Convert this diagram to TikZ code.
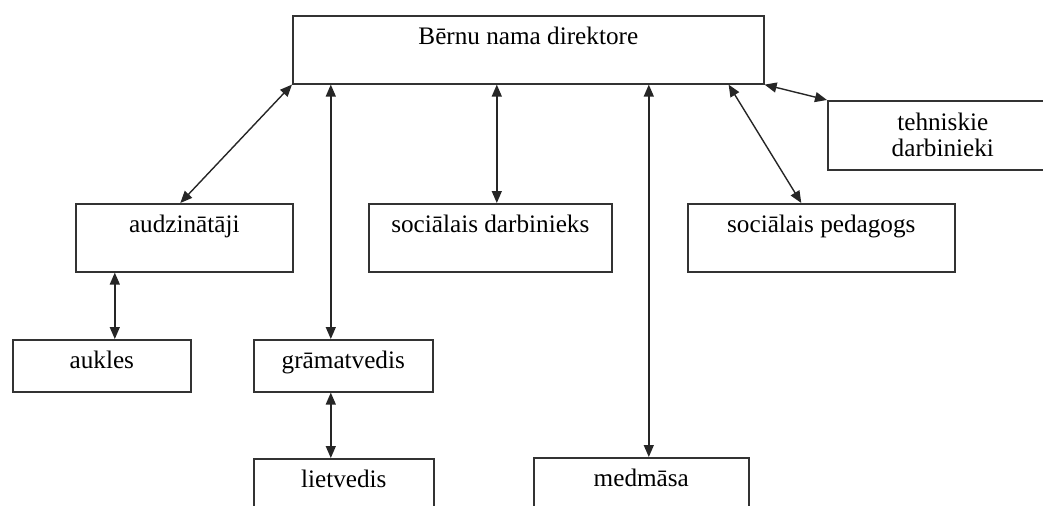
\documentclass[tikz,border=0pt]{standalone}
\usepackage{fontspec}
\setmainfont{Liberation Serif}
\usetikzlibrary{arrows.meta}

\begin{document}
\begin{tikzpicture}[
		x=0.5pt, y=-0.5pt,
		font=\fontsize{12.6}{13}\selectfont,
		% Boxes with the text near the upper edge
		tallbox/.style={draw=black!80, line width=0.8pt, anchor=north west, inner xsep=2pt, inner ysep=0pt, text height=14.5pt, text depth=19.5pt},
		shortbox/.style={tallbox, text depth=11.5pt},
		twolinebox/.style={draw=black!80, line width=0.8pt, anchor=north west, align=center, minimum height=34.5pt},
		% Two-headed connectors
		link/.style={{Triangle[length=6pt,width=5pt]}-{Triangle[length=6pt,width=5pt]}, line width=0.7pt, black!85}
		]
		
		\useasboundingbox (0,0) rectangle (1043,505);
		\clip (0,0) rectangle (1043,505);
		
		% =========================================================================
		% BOXES
		% =========================================================================
		\node[tallbox, minimum width=235.5pt] (dir) at (292,15) {Bērnu nama direktore};
		\node[twolinebox, minimum width=115pt] (tech) at (827,100) {tehniskie\\darbinieki};
		
		\node[tallbox, minimum width=108.5pt] (audz) at (75,203) {audzinātāji};
		\node[tallbox, minimum width=121.5pt] (socd) at (368,203) {sociālais darbinieks};
		\node[tallbox, minimum width=133.5pt] (socp) at (687,203) {sociālais pedagogs};
		
		\node[shortbox, minimum width=89pt] (aukl) at (12,339) {aukles};
		\node[shortbox, minimum width=89.5pt] (gram) at (253,339) {grāmatvedis};
		
		\node[tallbox, minimum width=90pt] (liet) at (253,458) {lietvedis};
		\node[tallbox, minimum width=107.5pt] (medm) at (533,457) {medmāsa};
		
		% =========================================================================
		% CONNECTORS
		% =========================================================================
		\coordinate (gx) at ([xshift=-6.25pt]gram.north);
		\coordinate (sx) at ([xshift=3.25pt]socd.north);
		\coordinate (mx) at ([xshift=3.75pt]medm.north);
		\coordinate (ax) at ([xshift=6.5pt]aukl.north);
		
		\draw[link] (dir.south west) -- ([xshift=-2pt]audz.north);
		\draw[link] (gx |- dir.south) -- (gx);
		\draw[link] (sx |- dir.south) -- (sx);
		\draw[link] (mx |- dir.south) -- (mx);
		\draw[link] ([xshift=-18pt]dir.south east) -- ([xshift=-10pt]socp.north);
		\draw[link] (dir.south east) -- (tech.north west);
		
		\draw[link] (ax |- audz.south) -- (ax);
		\draw[link] (gx |- gram.south) -- (gx |- liet.north);
		
	\end{tikzpicture}
\end{document}
